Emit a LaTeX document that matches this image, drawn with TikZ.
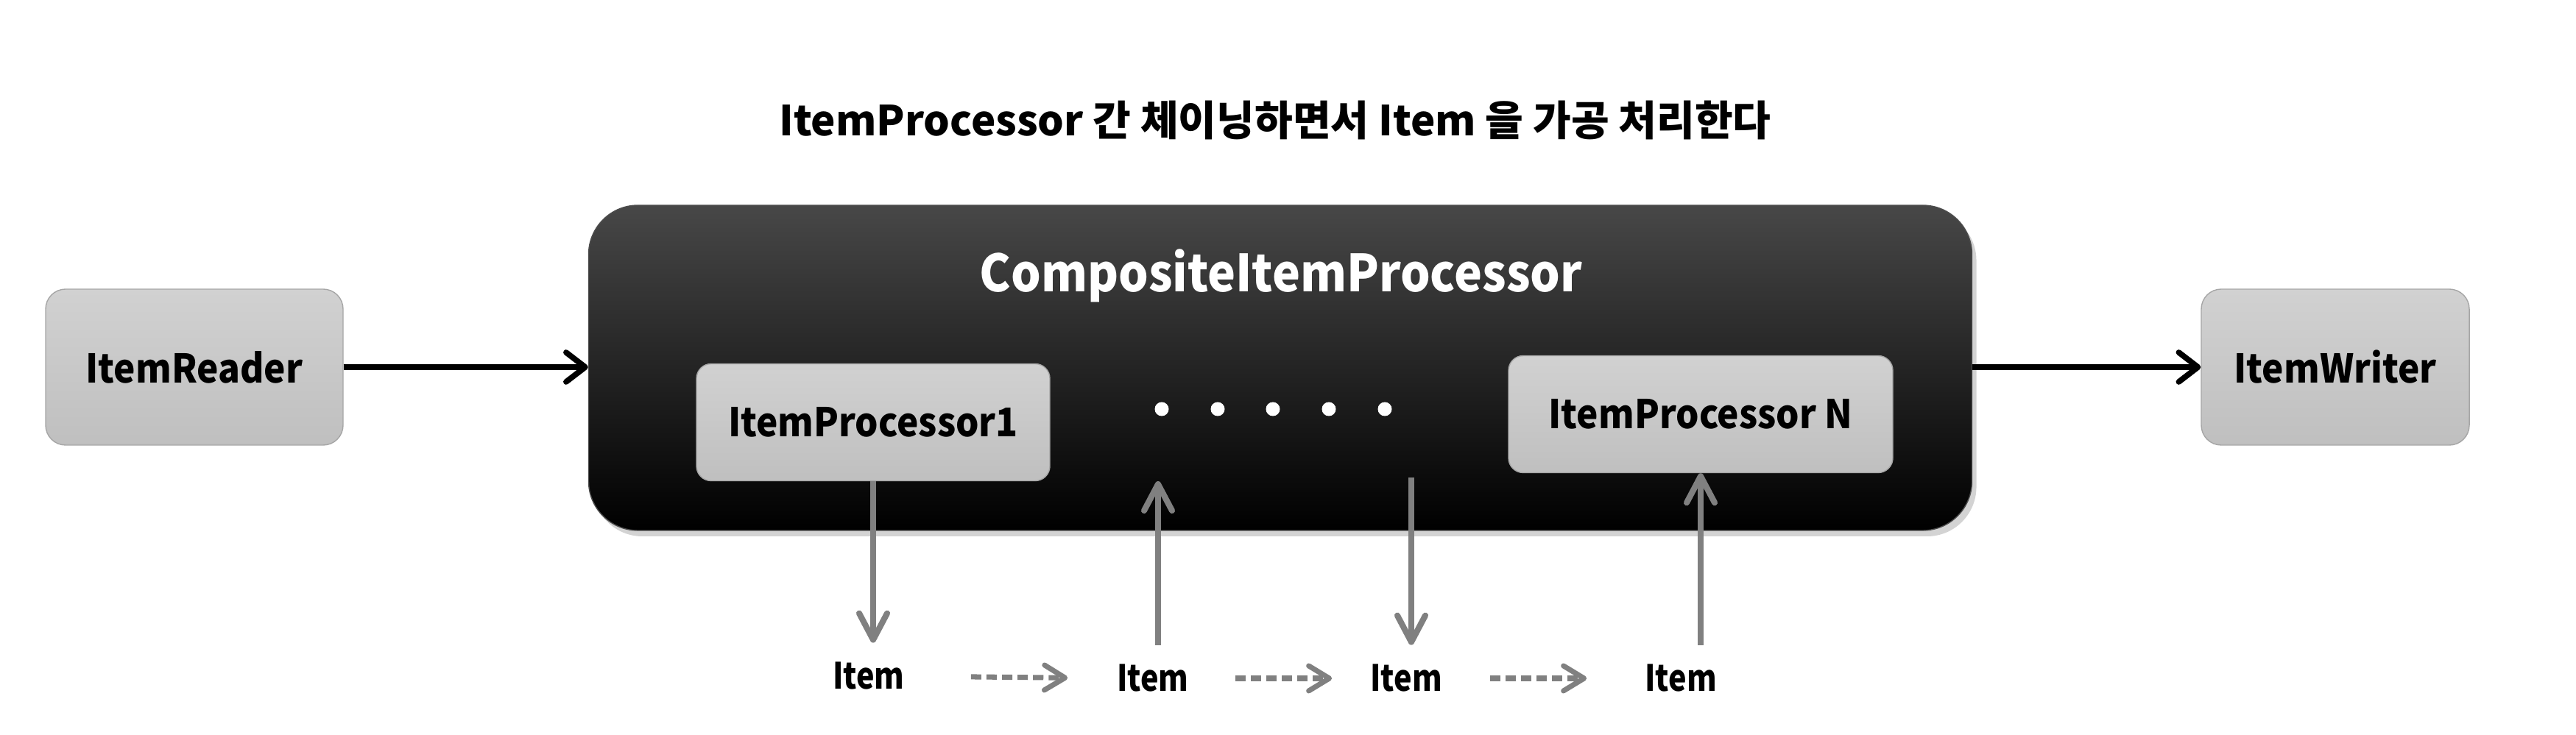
\documentclass[tikz,border=0pt]{standalone}
\usepackage{fontspec}
\setmainfont{Noto Sans CJK KR}
\newfontfamily\narrowfont{Noto Sans CJK KR}[FakeStretch=0.92]
\newfontfamily\itemfont{Noto Sans CJK KR}[FakeStretch=0.84]
\usepackage{tikz}
\usetikzlibrary{arrows.meta,positioning,shadows}

\begin{document}
\begin{tikzpicture}[
font=\bfseries,
box/.style={draw=black!35, rounded corners=0.27cm, top color=black!18, bottom color=black!25, align=center, font=\narrowfont\fontsize{15.3}{18}\selectfont\bfseries},
procbox/.style={box, rounded corners=0.2cm, minimum height=1.59cm},
outer/.style={draw=black!70, rounded corners=0.67cm, top color=black!72, middle color=black, bottom color=black, drop shadow={opacity=0.35, shadow xshift=0.6mm, shadow yshift=-0.8mm}, minimum width=18.79cm, minimum height=4.42cm},
item/.style={inner sep=0pt, font=\itemfont\fontsize{14}{16}\selectfont\bfseries},
arrow/.style={-{Straight Barb[length=2.6mm, width=4mm, round]}, line width=2.2pt},
flow/.style={-{Straight Barb[length=3.6mm, width=3.8mm, round]}, draw=black!50, line width=2.3pt, shorten <=2.6mm, shorten >=2.6mm},
dasharrow/.style={-{Straight Barb[length=2.8mm, width=3.4mm, round]}, draw=black!50, line width=2pt, dash pattern=on 4pt off 2pt}
]
\useasboundingbox (0,0) rectangle (34.99,9.99);

\node[font=\fontsize{16}{19}\selectfont\bfseries] (title) at (17.32,8.36) {ItemProcessor 간 체이닝하면서 Item 을 가공 처리한다};

\node[box, minimum width=4.04cm, minimum height=2.12cm] (reader) at (2.64,5.00) {ItemReader};
\node[box, minimum width=3.64cm, minimum height=2.12cm] (writer) at (31.72,5.00) {ItemWriter};
\node[outer] (comp) at (17.39,4.99) {};
\node[text=white, font=\narrowfont\fontsize{19.8}{24}\selectfont\bfseries] (comptitle) at (17.40,6.24) {CompositeItemProcessor};

\node[procbox, minimum width=4.80cm] (ip1) at (11.86,4.25) {ItemProcessor1};
\node[procbox, minimum width=5.22cm] (ipN) at (23.10,4.36) {ItemProcessor N};

% dots between the processors
\foreach \x [count=\i] in {15.78,16.54,17.29,18.05,18.81}
  \node[circle, fill=white, inner sep=0pt, minimum size=1.9mm] (dot\i) at (\x,4.43) {};

\node[item] (item1) at (11.80,0.80) {Item};
\node[item] (item2) at (15.66,0.77) {Item};
\node[item] (item3) at (19.10,0.77) {Item};
\node[item] (item4) at (22.83,0.77) {Item};

\coordinate (gap2) at (15.73,3.45);
\coordinate (gap3) at (19.17,3.50);

\draw[arrow] (reader.east) -- (reader.east -| comp.west);
\draw[arrow] (comp.east |- writer.west) -- (writer.west);

\draw[flow, shorten <=0pt] (ip1.south) -- (ip1.south |- item1.north);
\draw[flow, shorten >=0pt] (gap2 |- item2.north) -- (gap2);
\draw[flow, shorten <=0pt] (gap3) -- (gap3 |- item3.north);
\draw[flow, shorten >=0pt] (ipN.south |- item4.north) -- (ipN.south);

\draw[dasharrow, shorten <=8.95mm, shorten >=6.65mm] (item1.east) -- (item2.west);
\draw[dasharrow, shorten <=6.25mm, shorten >=5.15mm] (item2.east) -- (item3.west);
\draw[dasharrow, shorten <=6.45mm, shorten >=7.85mm] (item3.east) -- (item4.west);
\end{tikzpicture}
\end{document}
